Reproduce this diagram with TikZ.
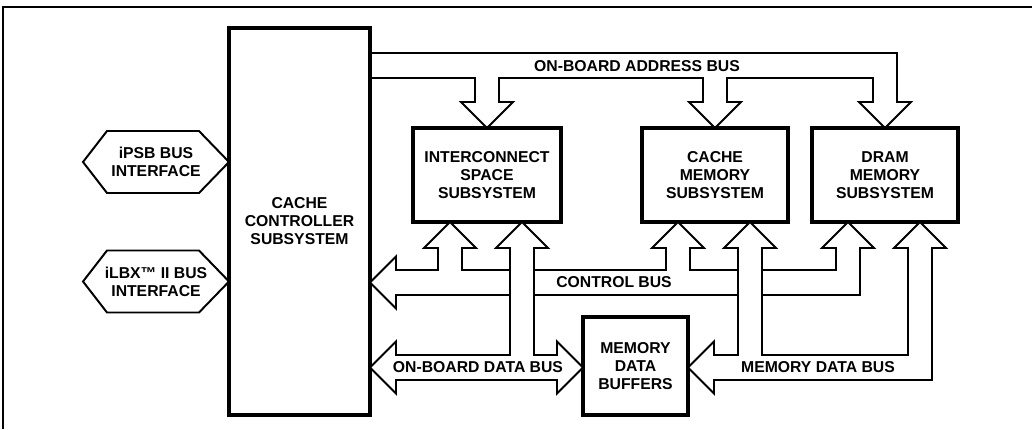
\documentclass[tikz,border=0pt]{standalone}
\usepackage{fontspec}
\setmainfont{Liberation Sans}
\usetikzlibrary{calc}

% fat bus arrow heads (tip, level of first shaft line, level of second shaft line)
\newcommand{\headdn}[3]{-- ($(#1|-#2)+(\sw,0)$) -- ($(#1)+(\sw,-\hh)$) -- ($(#1)+(\hw,-\hh)$) -- (#1) -- ($(#1)+(-\hw,-\hh)$) -- ($(#1)+(-\sw,-\hh)$) -- ($(#1|-#3)+(-\sw,0)$)}
\newcommand{\headup}[3]{-- ($(#1|-#2)+(-\sw,0)$) -- ($(#1)+(-\sw,\hh)$) -- ($(#1)+(-\hw,\hh)$) -- (#1) -- ($(#1)+(\hw,\hh)$) -- ($(#1)+(\sw,\hh)$) -- ($(#1|-#3)+(\sw,0)$)}

\begin{document}
\begin{tikzpicture}[
    x=0.025cm, y=-0.025cm,
    % units are pixels of the original sheet, y running down
    box/.style={draw, line width=2.3pt, fill=white, inner sep=0pt, outer sep=0pt, align=center,
                font=\bfseries\fontsize{11.2}{12.8}\selectfont},
    ifc/.style={inner sep=0pt, align=center, font=\bfseries\fontsize{11.2}{12.8}\selectfont},
    hexline/.style={draw, line width=1.4pt, line join=miter},
    bus/.style={draw, fill=white, line width=1.4pt, line join=miter},
    lbl/.style={inner sep=0pt, font=\bfseries\fontsize{11.2}{12.8}\selectfont}
]

\def\u{0.025cm} % one pixel
\def\sw{12}     % shaft half width
\def\hw{26}     % head half width
\def\hh{26}     % head length

\useasboundingbox (0,0) rectangle (1032,429);

% sheet frame
\draw[line width=1.6pt] (3,429) -- (3,7) -- (1032,7);

% ===== BOXES =====
\node[box, minimum width=141*\u, minimum height=387*\u] (ccs) at (299.5,221.5) {CACHE\\CONTROLLER\\SUBSYSTEM};
\node[box, minimum width=148*\u, minimum height=94*\u] (ics) at (487,175) {INTERCONNECT\\SPACE\\SUBSYSTEM};
\node[box, minimum width=146*\u, minimum height=94*\u] (cms) at (715,175) {CACHE\\MEMORY\\SUBSYSTEM};
\node[box, minimum width=146*\u, minimum height=94*\u] (dms) at (885,175) {DRAM\\MEMORY\\SUBSYSTEM};
\node[box, minimum width=105*\u, minimum height=98*\u] (mdb) at (635.5,366) {MEMORY\\DATA\\BUFFERS};

% ===== BUS INTERFACES =====
\node[ifc] (ipsb) at (156,162) {iPSB BUS\\INTERFACE};
\node[ifc] (ilbx) at (156,281.5) {iLBX™ II BUS\\INTERFACE};
\foreach \n in {ipsb, ilbx}
  \draw[hexline] ($(\n)+(-73,0)$) -- ($(\n)+(-49,-31)$) -- ($(\n)+(43,-31)$) -- ($(\n)+(73,0)$)
                 -- ($(\n)+(43,31)$) -- ($(\n)+(-49,31)$) -- cycle;

% arrow tips on the boxes
\coordinate (aI) at (ics.north);
\coordinate (aC) at (cms.north);
\coordinate (aD) at (dms.north);
\coordinate (cI) at ($(ics.south)+(-37,0)$);
\coordinate (cC) at ($(cms.south)+(-37,0)$);
\coordinate (cD) at ($(dms.south)+(-37,0)$);
\coordinate (dI) at ($(ics.south)+(35,0)$);
\coordinate (dC) at ($(cms.south)+(35,0)$);
\coordinate (dD) at ($(dms.south)+(35,0)$);

% bus levels
\coordinate (abT) at (0,53);
\coordinate (abB) at (0,78);
\coordinate (cbT) at (0,270);
\coordinate (cbM) at (0,282.5);
\coordinate (cbB) at (0,295);
\coordinate (dbT) at (0,355);
\coordinate (dbM) at (0,367.5);
\coordinate (dbB) at (0,380);

% ===== ADDRESS BUS =====
\draw[bus, fill=none] (ccs.east|-abT) \headdn{aD}{abT}{abB} \headdn{aC}{abB}{abB} \headdn{aI}{abB}{abB} -- (ccs.east|-abB);

% ===== CONTROL BUS =====
\draw[bus] (ccs.east|-cbM) -- ($(ccs.east|-cbM)+(\hh,-\hw)$) -- ($(ccs.east|-cbT)+(\hh,0)$)
    \headup{cI}{cbT}{cbT} \headup{cC}{cbT}{cbT} \headup{cD}{cbT}{cbB}
    -- ($(ccs.east|-cbB)+(\hh,0)$) -- ($(ccs.east|-cbM)+(\hh,\hw)$) -- cycle;

% ===== ON-BOARD DATA BUS =====
\draw[bus] (ccs.east|-dbM) -- ($(ccs.east|-dbM)+(\hh,-\hw)$) -- ($(ccs.east|-dbT)+(\hh,0)$)
    \headup{dI}{dbT}{dbT}
    -- ($(mdb.west|-dbT)+(-\hh,0)$) -- ($(mdb.west|-dbM)+(-\hh,-\hw)$) -- (mdb.west|-dbM)
    -- ($(mdb.west|-dbM)+(-\hh,\hw)$) -- ($(mdb.west|-dbB)+(-\hh,0)$)
    -- ($(ccs.east|-dbB)+(\hh,0)$) -- ($(ccs.east|-dbM)+(\hh,\hw)$) -- cycle;

% ===== MEMORY DATA BUS =====
\draw[bus] (mdb.east|-dbM) -- ($(mdb.east|-dbM)+(\hh,-\hw)$) -- ($(mdb.east|-dbT)+(\hh,0)$)
    \headup{dC}{dbT}{dbT} \headup{dD}{dbT}{dbB}
    -- ($(mdb.east|-dbB)+(\hh,0)$) -- ($(mdb.east|-dbM)+(\hh,\hw)$) -- cycle;

% bus labels
\node[lbl] (abl) at (637,66) {ON-BOARD ADDRESS BUS};
\node[lbl] (cbl) at (614,282.5) {CONTROL BUS};
\node[lbl] (dbl) at (478,367.5) {ON-BOARD DATA BUS};
\node[lbl] (mbl) at (818,367.5) {MEMORY DATA BUS};

\end{tikzpicture}
\end{document}
